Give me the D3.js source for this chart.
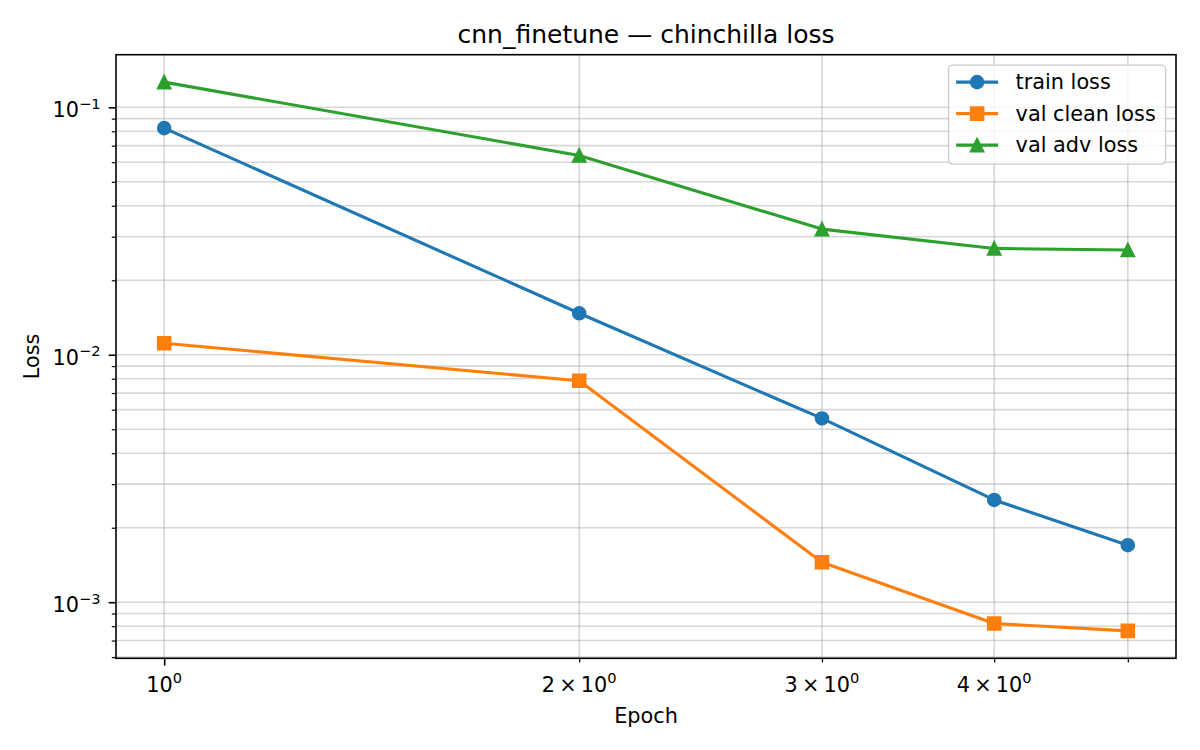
<!DOCTYPE html>
<html>
<head>
<meta charset="utf-8">
<script src="https://cdn.jsdelivr.net/npm/d3@7"></script>
<style>
  body { margin: 0; background: #fff; }
  text { font-family: "DejaVu Sans", sans-serif; fill: #000; }
</style>
</head>
<body>
<div id="chart"></div>
<script>
// values
const epochs = [1, 2, 3, 4, 5];
const trainLoss = [0.0824, 0.01471, 0.00553, 0.00259, 0.00170];
const valCleanLoss = [0.01113, 0.00785, 0.00145, 0.00082, 0.000766];
const valAdvLoss = [0.1264, 0.0639, 0.0322, 0.0269, 0.0265];
const seriesNames = ["train loss", "val clean loss", "val adv loss"];
const seriesColors = ["#1f77b4", "#ff7f0e", "#2ca02c"];

const xTicks = [1, 2, 3, 4, 5];
const xTickLabels = ["10^0", "2×10^0", "3×10^0", "4×10^0", ""];
const yMajorTicks = [1e-1, 1e-2, 1e-3];
const yTickLabels = ["10^−1", "10^−2", "10^−3"];

const titleText = "cnn_finetune — chinchilla loss";

// layout
const W = 1200, H = 750;
const margin = { top: 54.7, right: 24, bottom: 91.7, left: 116 };
const width = W - margin.left - margin.right;
const height = H - margin.top - margin.bottom;

const svg = d3.select("#chart")
  .append("svg")
  .attr("width", W)
  .attr("height", H);

const g = svg.append("g")
  .attr("transform", "translate(" + margin.left + "," + margin.top + ")");

// log domains padded by 5% like matplotlib
function logDomain(vals) {
  const ext = d3.extent(vals, v => Math.log10(v));
  const pad = (ext[1] - ext[0]) * 0.05;
  return [Math.pow(10, ext[0] - pad), Math.pow(10, ext[1] + pad)];
}

const x = d3.scaleLog().domain(logDomain(epochs)).range([0, width]);
const yDom = logDomain(trainLoss.concat(valCleanLoss, valAdvLoss));
const y = d3.scaleLog().domain([yDom[0], yDom[1]]).range([height, 0]);

// minor y ticks 2..9 in every decade inside the domain
const yMinorTicks = [];
for (let e = -4; e <= -1; e++) {
  for (let m = 2; m <= 9; m++) {
    const v = m * Math.pow(10, e);
    if (v >= yDom[0] && v <= yDom[1]) yMinorTicks.push(v);
  }
}

// grid
const grid = g.append("g").attr("class", "grid")
  .attr("stroke", "#b0b0b0").attr("stroke-opacity", 0.5).attr("stroke-width", 1.6);
grid.selectAll(".gy")
  .data(yMajorTicks.concat(yMinorTicks))
  .enter().append("line")
  .attr("x1", 0).attr("x2", width)
  .attr("y1", d => y(d)).attr("y2", d => y(d));
grid.selectAll(".gx")
  .data(xTicks)
  .enter().append("line")
  .attr("y1", 0).attr("y2", height)
  .attr("x1", d => x(d)).attr("x2", d => x(d));

// axes (ticks only, labels done by hand for superscripts)
const xAxis = g.append("g")
  .attr("transform", "translate(0," + height + ")")
  .call(d3.axisBottom(x).tickValues([1]).tickSize(7.3).tickFormat(""));
const xAxisMinor = g.append("g")
  .attr("transform", "translate(0," + height + ")")
  .call(d3.axisBottom(x).tickValues([2, 3, 4, 5]).tickSize(4.2).tickFormat(""));
const yAxis = g.append("g")
  .call(d3.axisLeft(y).tickValues(yMajorTicks).tickSize(7.3).tickFormat(""));
const yAxisMinor = g.append("g")
  .call(d3.axisLeft(y).tickValues(yMinorTicks).tickSize(4.2).tickFormat(""));

[xAxis, xAxisMinor, yAxis, yAxisMinor].forEach(a => {
  a.select(".domain").remove();
  a.selectAll("line").attr("stroke", "#000");
});
xAxis.selectAll("line").attr("stroke-width", 1.6);
yAxis.selectAll("line").attr("stroke-width", 1.6);
xAxisMinor.selectAll("line").attr("stroke-width", 1.2);
yAxisMinor.selectAll("line").attr("stroke-width", 1.2);

function mathLabel(sel, label) {
  const parts = label.split("^");
  sel.append("tspan").text(parts[0].replace("×", "\u2009×\u2009"));
  sel.append("tspan")
    .attr("font-size", 14.6)
    .attr("dy", -8.5)
    .text(parts[1]);
}

xTicks.forEach((t, i) => {
  if (!xTickLabels[i]) return;
  const txt = g.append("text")
    .attr("x", x(t))
    .attr("y", height + 33.7)
    .attr("text-anchor", "middle")
    .attr("font-size", 20.8);
  mathLabel(txt, xTickLabels[i]);
});

yMajorTicks.forEach((t, i) => {
  const txt = g.append("text")
    .attr("x", -15.5)
    .attr("y", y(t) + 10)
    .attr("text-anchor", "end")
    .attr("font-size", 20.8);
  mathLabel(txt, yTickLabels[i]);
});

// lines and markers
const seriesData = [trainLoss, valCleanLoss, valAdvLoss];

const triangleUp = {
  draw(context, size) {
    const h = Math.sqrt(size) / 2;
    context.moveTo(0, -h);
    context.lineTo(h, h);
    context.lineTo(-h, h);
    context.closePath();
  }
};
const symbolTypes = [d3.symbolCircle, d3.symbolSquare, triangleUp];
const symbolSizes = [Math.PI * 6.25 * 6.25, 12.5 * 12.5, 12.5 * 12.5];

const line = d3.line()
  .x((d, i) => x(epochs[i]))
  .y(d => y(d));

seriesData.forEach((vals, s) => {
  g.append("path")
    .datum(vals)
    .attr("fill", "none")
    .attr("stroke", seriesColors[s])
    .attr("stroke-width", 3.1)
    .attr("stroke-linejoin", "round")
    .attr("d", line);

  g.selectAll(".m" + s)
    .data(vals)
    .enter()
    .append("path")
    .attr("class", "m" + s)
    .attr("transform", (d, i) => "translate(" + x(epochs[i]) + "," + y(d) + ")")
    .attr("d", d3.symbol().type(symbolTypes[s]).size(symbolSizes[s]))
    .attr("fill", seriesColors[s])
    .attr("stroke", seriesColors[s])
    .attr("stroke-width", 2.08)
    .attr("stroke-linejoin", "miter");
});

// spines
g.append("rect")
  .attr("x", 0).attr("y", 0)
  .attr("width", width).attr("height", height)
  .attr("fill", "none")
  .attr("stroke", "#000")
  .attr("stroke-width", 1.6);

// legend
const legend = g.append("g")
  .attr("transform", "translate(" + (width - 10.4 - 217) + "," + 10.4 + ")");
legend.append("rect")
  .attr("width", 217).attr("height", 99)
  .attr("rx", 4).attr("ry", 4)
  .attr("fill", "#fff").attr("fill-opacity", 0.8)
  .attr("stroke", "#cccccc").attr("stroke-width", 1.4);

seriesNames.forEach((name, s) => {
  const row = legend.append("g")
    .attr("transform", "translate(0," + (17 + s * 31.5) + ")");
  row.append("line")
    .attr("x1", 7.5).attr("x2", 49.5)
    .attr("stroke", seriesColors[s]).attr("stroke-width", 3.1);
  row.append("path")
    .attr("transform", "translate(28.5,0)")
    .attr("d", d3.symbol().type(symbolTypes[s]).size(symbolSizes[s]))
    .attr("fill", seriesColors[s])
    .attr("stroke", seriesColors[s])
    .attr("stroke-width", 2.08);
  row.append("text")
    .attr("x", 67)
    .attr("y", 7.2)
    .attr("font-size", 20.8)
    .text(name);
});

// title and axis labels
svg.append("text")
  .attr("x", margin.left + width / 2)
  .attr("y", 42.5)
  .attr("text-anchor", "middle")
  .attr("font-size", 25)
  .text(titleText);

svg.append("text")
  .attr("x", margin.left + width / 2)
  .attr("y", 723)
  .attr("text-anchor", "middle")
  .attr("font-size", 20.8)
  .text("Epoch");

svg.append("text")
  .attr("transform", "translate(39," + (margin.top + height / 2) + ")rotate(-90)")
  .attr("text-anchor", "middle")
  .attr("font-size", 20.8)
  .text("Loss");
</script>
</body>
</html>
